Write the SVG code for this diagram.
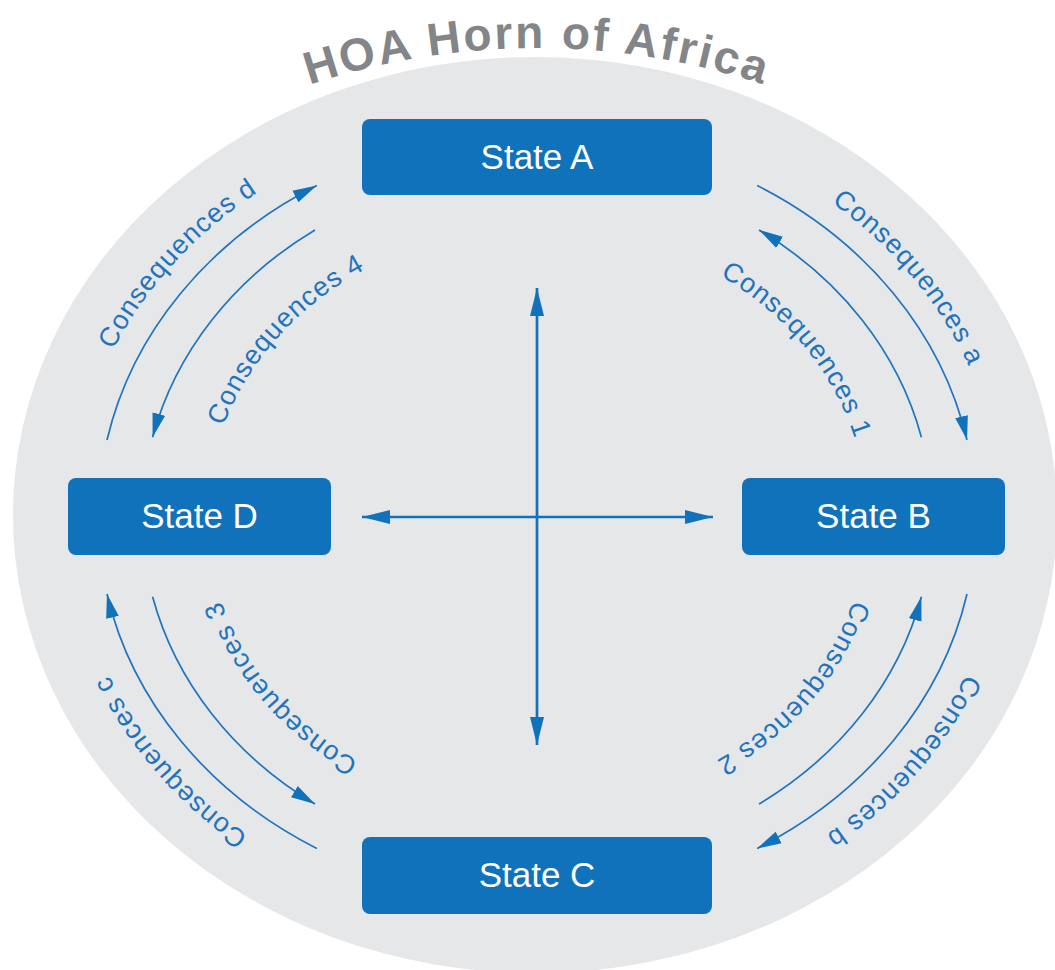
<svg xmlns="http://www.w3.org/2000/svg" width="1055" height="970" viewBox="0 0 1055 970">
  <style>
    .box { fill: #1172bc; }
    .boxlabel { font-family: "Liberation Sans", Arial, sans-serif; font-size: 35px; fill: #ffffff; text-anchor: middle; }
    .title { font-family: "Liberation Sans", Arial, sans-serif; font-size: 46px; font-weight: bold; fill: #848589; letter-spacing: 2.5px; }
    .arc { fill: none; stroke: #1f74bd; stroke-width: 1.7; marker-end: url(#head-s); }
    .axis { fill: none; stroke: #1172bc; stroke-width: 2.7; marker-start: url(#head-l); marker-end: url(#head-l); }
    .lbl { font-family: "Liberation Sans", Arial, sans-serif; font-size: 27px; fill: #1f74bd; letter-spacing: 1px; }
  </style>
  <defs>
    <marker id="head-s" markerUnits="userSpaceOnUse" markerWidth="24" markerHeight="14" viewBox="0 0 24 14" refX="24" refY="7" orient="auto">
      <path d="M0,0.5 L24,7 L0,13.5 Z" fill="#1172bc"/>
    </marker>
    <marker id="head-l" markerUnits="userSpaceOnUse" markerWidth="28" markerHeight="16" viewBox="0 0 28 16" refX="28" refY="8" orient="auto-start-reverse">
      <path d="M0,1 L28,8 L0,15 Z" fill="#1172bc"/>
    </marker>
    <!-- baseline paths for the curved labels -->
    <path id="tp-title" d="M237,113.5 A720,720 0 0 1 837,113.5"/>
    <path id="tp-d" d="M76.5,460.5 A465,406 0 0 1 362.8,140.6"/>
    <path id="tp-4" d="M210.2,476.6 A330,290 0 0 1 413.4,248.1"/>
    <path id="tp-a" d="M729.8,147.5 A465,406 0 0 1 999.9,478.1"/>
    <path id="tp-1" d="M673.9,253.1 A330,290 0 0 1 865.5,489.2"/>
    <path id="tp-b" d="M999,563 A465,406 0 0 1 722.4,889.3"/>
    <path id="tp-2" d="M864.9,549.8 A330,290 0 0 1 668.6,783"/>
    <path id="tp-c" d="M351.6,889.3 A465,406 0 0 1 75,563"/>
    <path id="tp-3" d="M405.4,783 A330,290 0 0 1 209.1,549.8"/>
  </defs>

  <rect width="1055" height="970" fill="#ffffff"/>
  <ellipse cx="535" cy="515" rx="522" ry="458" fill="#e6e7e9"/>

  <text class="title"><textPath href="#tp-title" startOffset="50%" text-anchor="middle">HOA Horn of Africa</textPath></text>

  <g id="connectors">
    <!-- central cross -->
    <path class="axis" d="M537,288 L537,745"/>
    <path class="axis" d="M362,517 L713,517"/>
    <!-- outer ring, clockwise -->
    <path class="arc" d="M107,440 A439,383 0 0 1 316.8,185.6"/>
    <path class="arc" d="M757.2,185.6 A439,383 0 0 1 967,440"/>
    <path class="arc" d="M967,594 A439,383 0 0 1 757.2,848.4"/>
    <path class="arc" d="M316.8,848.4 A439,383 0 0 1 107,594"/>
    <!-- inner ring, counter-clockwise -->
    <path class="arc" d="M315,230 A395,347 0 0 0 152.6,437.2"/>
    <path class="arc" d="M921.4,437.2 A395,347 0 0 0 759,230"/>
    <path class="arc" d="M759,804 A395,347 0 0 0 921.4,596.8"/>
    <path class="arc" d="M152.6,596.8 A395,347 0 0 0 315,804"/>
    <!-- labels -->
    <text class="lbl"><textPath href="#tp-d" startOffset="50%" text-anchor="middle">Consequences d</textPath></text>
    <text class="lbl"><textPath href="#tp-4" startOffset="50%" text-anchor="middle">Consequences 4</textPath></text>
    <text class="lbl"><textPath href="#tp-a" startOffset="50%" text-anchor="middle">Consequences a</textPath></text>
    <text class="lbl"><textPath href="#tp-1" startOffset="50%" text-anchor="middle">Consequences 1</textPath></text>
    <text class="lbl"><textPath href="#tp-b" startOffset="50%" text-anchor="middle">Consequences b</textPath></text>
    <text class="lbl"><textPath href="#tp-2" startOffset="50%" text-anchor="middle">Consequences 2</textPath></text>
    <text class="lbl"><textPath href="#tp-c" startOffset="50%" text-anchor="middle">Consequences c</textPath></text>
    <text class="lbl"><textPath href="#tp-3" startOffset="50%" text-anchor="middle">Consequences 3</textPath></text>
  </g>

  <g id="state-a">
    <rect class="box" x="362" y="119" width="350" height="76" rx="8"/>
    <text class="boxlabel" x="537" y="169">State A</text>
  </g>
  <g id="state-b">
    <rect class="box" x="742" y="478" width="263" height="77" rx="8"/>
    <text class="boxlabel" x="873.5" y="528">State B</text>
  </g>
  <g id="state-c">
    <rect class="box" x="362" y="837" width="350" height="77" rx="8"/>
    <text class="boxlabel" x="537" y="887">State C</text>
  </g>
  <g id="state-d">
    <rect class="box" x="68" y="478" width="263" height="77" rx="8"/>
    <text class="boxlabel" x="199.5" y="528">State D</text>
  </g>
</svg>
